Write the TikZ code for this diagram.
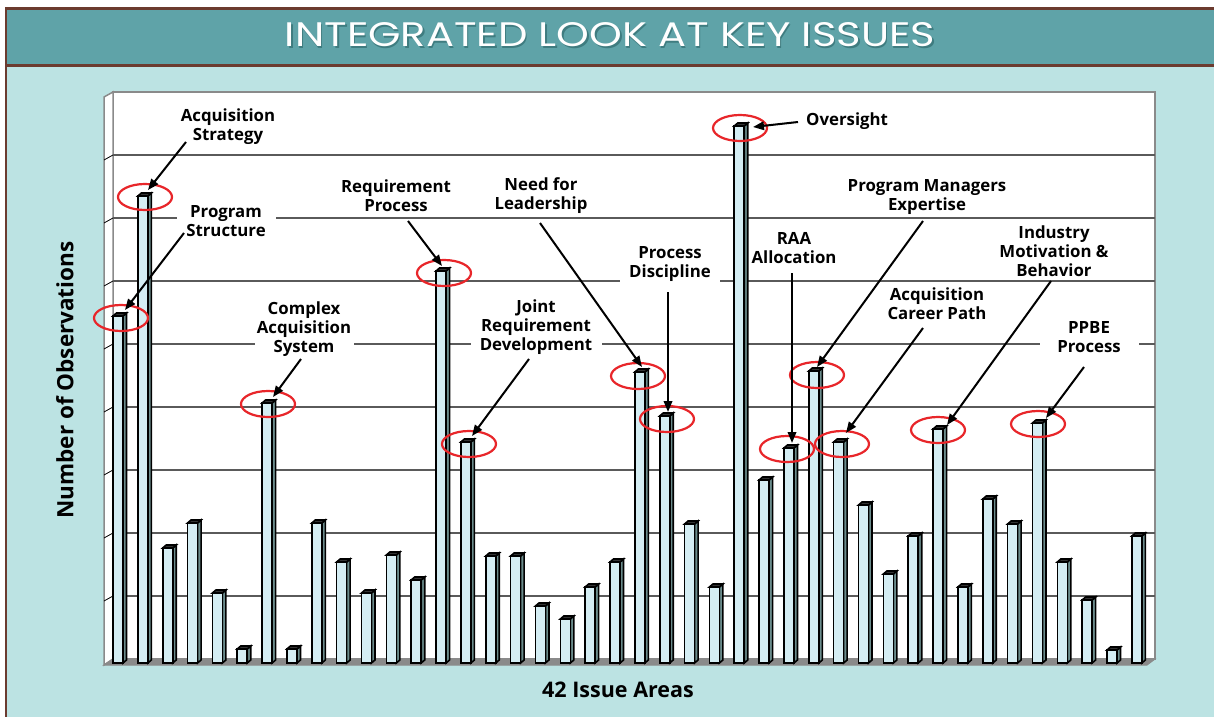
\documentclass[tikz,border=0pt]{standalone}
\usepackage{fontspec}
\usepackage{graphicx}
\newfontfamily\labfont{Open Sans}
\newfontfamily\titlefont{Poppins}
\usetikzlibrary{arrows.meta,shapes.geometric}
\definecolor{hdr}{HTML}{5FA3A8}
\definecolor{bodybg}{HTML}{BCE3E3}
\definecolor{brd}{HTML}{6B3B2F}
\definecolor{barface}{HTML}{D4EDF3}
\definecolor{barside}{HTML}{6B8C8C}
\definecolor{gridc}{HTML}{5A5A5A}
\definecolor{wallc}{HTML}{8A8A8A}
\definecolor{ringred}{HTML}{E8262A}
\definecolor{shadowc}{HTML}{3F7C80}
\begin{document}
\begin{tikzpicture}[x=1pt,y=-1pt,
  lbl/.style={align=center, inner xsep=0pt, inner ysep=1pt, font=\labfont\bfseries\fontsize{16.8}{19}\selectfont},
  lblw/.style={lbl, fill=white},
  ring/.style={draw=ringred, line width=2.2pt, ellipse, minimum width=54pt, minimum height=26pt, inner sep=0pt},
  arr/.style={line width=2pt, -{Triangle[length=11pt,width=8.5pt]}},
  axlbl/.style={font=\labfont\bfseries\fontsize{22.5}{24}\selectfont, inner sep=0pt},
  barline/.style={draw=black, line width=1.6pt, line join=miter}
]
\useasboundingbox (0,0) rectangle (1214,717);
\fill[white] (0,0) rectangle (1214,717);
% frame
\fill[bodybg] (6,8) rectangle (1214,717);
\fill[hdr] (6,8) rectangle (1214,65);
\draw[brd, line width=2.5pt] (1214,8.5) -- (6,8.5) -- (6,717);
\draw[brd, line width=2.5pt] (6,65.5) -- (1214,65.5);
% title
\node[anchor=base, inner sep=0pt, text=shadowc] (titleshadow) at (611.5,48.5) {\resizebox{650pt}{24pt}{\titlefont INTEGRATED LOOK AT KEY ISSUES}};
\node[anchor=base, inner sep=0pt, text=white] (title) at (610,47) {\resizebox{650pt}{24pt}{\titlefont INTEGRATED LOOK AT KEY ISSUES}};
% chart walls
\filldraw[fill=white, draw=wallc, line width=1.5pt] (113,92) rectangle (1155,659);
\filldraw[fill=white, draw=wallc, line width=1.5pt] (104,97) -- (113,92) -- (113,659) -- (104,665) -- cycle;
\filldraw[fill=wallc, draw=wallc, line width=1pt] (104,665) -- (113,659) -- (1155,659) -- (1147,665) -- cycle;
\foreach \g in {155,218,281,344,407,470,533,596}{
  \draw[gridc, line width=1.3pt] (113,\g) -- (1155,\g);
  \draw[black, line width=0.8pt] (104,{\g+5}) -- (113,\g);
}
% labels
\node[lbl] (lAS) at (228,127) {Acquisition\\Strategy};
\node[lblw, minimum width=99pt] (lPS) at (226,221) {Program\\Structure};
\node[lblw, minimum width=110pt] (lRP) at (396,196) {Requirement\\Process};
\node[lblw, minimum width=99pt] (lCA) at (304,329) {Complex\\Acquisition\\System};
\node[lblw, minimum width=131pt] (lJR) at (536,327) {Joint\\Requirement\\Development};
\node[lblw, minimum width=100pt] (lNL) at (541,196) {Need for\\Leadership};
\node[lblw, minimum width=100pt] (lPD) at (670,264) {Process\\Discipline};
\node[lbl, anchor=west] (lOV) at (806,121) {Oversight};
\node[lbl] (lRAA) at (794,248) {RAA\\Allocation};
\node[lblw, minimum width=139pt] (lPM) at (927,197) {Program Managers\\Expertise};
\node[lbl] (lCP) at (937,304) {Acquisition\\Career Path};
\node[lblw, minimum width=113pt] (lIM) at (1054,251) {Industry\\Motivation \&\\Behavior};
\node[lblw, minimum width=99pt] (lPP) at (1089,337) {PPBE\\Process};
% bars
\foreach \i/\t in {1/316,2/196,3/548,4/523,5/593,6/649,7/403,8/649,9/523,10/562,
  11/593,12/555,13/580,14/271,15/442,16/556,17/556,18/606,19/619,20/587,
  21/562,22/372,23/416,24/524,25/587,26/126,27/480,28/448,29/371,30/442,
  31/505,32/574,33/536,34/429,35/587,36/499,37/524,38/423,39/562,40/600,
  41/650,42/536}{
  \pgfmathsetmacro\L{113+(\i-1)*24.85}
  \filldraw[barline, fill=barside] ({\L+10},\t) -- ({\L+13.5},{\t-3}) -- ({\L+13.5},660) -- ({\L+10},663) -- cycle;
  \filldraw[barline, fill=barface] (\L,\t) rectangle ({\L+10},663);
  \filldraw[barline, fill=black!80] (\L,\t) -- ({\L+3.5},{\t-3}) -- ({\L+13.5},{\t-3}) -- ({\L+10},\t) -- cycle;
}
% rings
\node[ring] (e1) at (121,318) {};
\node[ring] (e2) at (145,197) {};
\node[ring] (e7) at (268,404) {};
\node[ring] (e14) at (444,273) {};
\node[ring] (e15) at (469,444) {};
\node[ring] (e22) at (638,376) {};
\node[ring] (e23) at (667,419) {};
\node[ring] (e26) at (740,128) {};
\node[ring] (e28) at (787,449) {};
\node[ring] (e29) at (817,375) {};
\node[ring] (e30) at (842,444) {};
\node[ring] (e34) at (938,430) {};
\node[ring] (e38) at (1038,424) {};
% arrow ends
\coordinate (sAS) at (186,142); \coordinate (tAS) at (148,190);
\coordinate (sPS) at (184,233); \coordinate (tPS) at (125,310);
\coordinate (sRP) at (408,221); \coordinate (tRP) at (442,266);
\coordinate (sCA) at (301,359); \coordinate (tCA) at (273,397);
\coordinate (sJR) at (529,359); \coordinate (tJR) at (472,436);
\coordinate (sNL) at (540,223); \coordinate (tNL) at (642,367);
\coordinate (sPD) at (668,292); \coordinate (tPD) at (668,412);
\coordinate (sOV) at (798,122); \coordinate (tOV) at (753,127);
\coordinate (sRAA) at (792,273); \coordinate (tRAA) at (792,443);
\coordinate (sPM) at (923,221); \coordinate (tPM) at (817,367);
\coordinate (sCP) at (923,328); \coordinate (tCP) at (846,433);
\coordinate (sIM) at (1051,281); \coordinate (tIM) at (947,425);
\coordinate (sPP) at (1084,367); \coordinate (tPP) at (1046,418);
\foreach \n in {AS,PS,RP,CA,JR,NL,PD,OV,RAA,PM,CP,IM,PP}{
  \draw[arr] (s\n) -- (t\n);
}
% axis labels
\node[axlbl, rotate=90] (ylab) at (65,380) {Number of Observations};
\node[axlbl, font=\labfont\bfseries\fontsize{21.5}{24}\selectfont] (xlab) at (618,690) {42 Issue Areas};
\end{tikzpicture}
\end{document}
